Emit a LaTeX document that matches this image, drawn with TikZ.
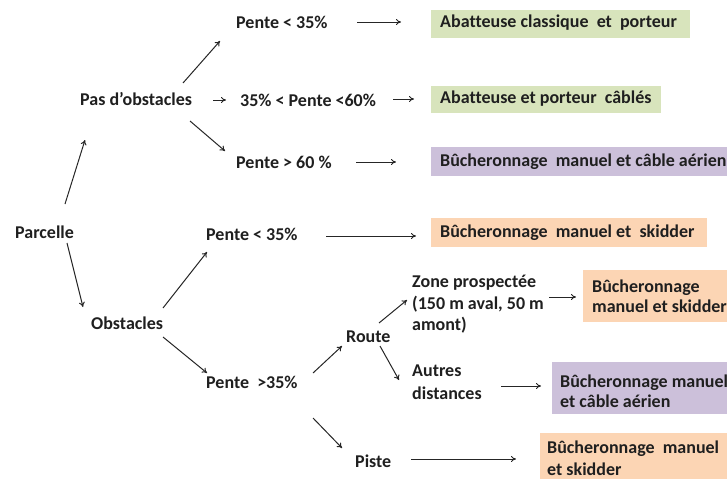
\documentclass[tikz,border=0pt]{standalone}
\usepackage{fontspec}
\setmainfont{Carlito}[Ligatures=NoCommon]
\usetikzlibrary{arrows.meta}
\definecolor{boxgreen}{HTML}{D8E4BC}
\definecolor{boxpurple}{HTML}{CCC0DA}
\definecolor{boxorange}{HTML}{FCD5B4}
\begin{document}
\begin{tikzpicture}[x=1pt,y=-1pt,
  lbl/.style={font=\fontsize{18}{22}\selectfont\bfseries, inner sep=0pt, text=black!88, anchor=west},
  res/.style={font=\fontsize{18}{20}\selectfont\bfseries, inner sep=0pt, anchor=north west, align=left, text=black!88},
  arr/.style={-{To[length=5pt,width=6pt]}, line width=1pt, black!85}]
\useasboundingbox (0,0) rectangle (727,479);
% result boxes
\fill[boxgreen] (431,10) rectangle (690,38);
\fill[boxgreen] (431,86) rectangle (661,113);
\fill[boxpurple] (431,147) rectangle (727,176);
\fill[boxorange] (431,218) rectangle (707,247);
\fill[boxorange] (583,270) rectangle (727,322);
\fill[boxpurple] (552,362) rectangle (727,414);
\fill[boxorange] (540,433) rectangle (727,479);
\node[lbl] (r1) at (440,23) {Abatteuse classique \ et \ porteur};
\node[lbl] (r2) at (440,99) {Abatteuse et porteur \ câblés};
\node[lbl] (r3) at (440,162) {Bûcheronnage \ manuel et câble aérien};
\node[lbl] (r4) at (440,233) {Bûcheronnage \ manuel et \ skidder};
\node[res] (r5) at (592,280) {Bûcheronnage\\manuel et skidder};
\node[res] (r6) at (560,375) {Bûcheronnage manuel\\et câble aérien};
\node[res, font=\fontsize{18}{22}\selectfont\bfseries] (r7) at (547,441) {Bûcheronnage \ manuel\\et skidder};
% labels
\node[lbl] (parc) at (15,232) {Parcelle};
\node[lbl] (pas) at (80,99) {Pas d’obstacles};
\node[lbl] (obs) at (91,323) {Obstacles};
\node[lbl] (p1) at (236,22) {Pente < 35\%};
\node[lbl] (p2) at (240,100) {35\% < Pente <60\%};
\node[lbl] (p3) at (236,162) {Pente > 60 \%};
\node[lbl] (p4) at (206,234) {Pente < 35\%};
\node[lbl] (p5) at (206,382) {Pente \ >35\%};
\node[lbl] (route) at (346,337) {Route};
\node[res, font=\fontsize{18}{21.5}\selectfont\bfseries] (zone) at (412,275) {Zone prospectée\\(150 m aval, 50 m\\amont)};
\node[res, font=\fontsize{18}{23}\selectfont\bfseries] (autres) at (412,365) {Autres\\distances};
\node[lbl] (piste) at (355,461) {Piste};
% arrows
\draw[arr] ([shift={(50,-28)}]parc.west) -- ([shift={(5,41)}]pas.west);
\draw[arr] ([shift={(52,11)}]parc.west) -- ([shift={(-8,-16)}]obs.west);
\draw[arr] ([shift={(103,-16)}]pas.west) -- ([shift={(-16,19)}]p1.west);
\draw[arr] ([shift={(133,1)}]pas.west) -- ([shift={(-14,0)}]p2.west);
\draw[arr] ([shift={(110,22)}]pas.west) -- ([shift={(-11,-11)}]p3.west);
\draw[arr] ([shift={(121,0)}]p1.west) -- ([shift={(-39,-1)}]r1.west);
\draw[arr] ([shift={(153,-1)}]p2.west) -- ([shift={(-26,0)}]r2.west);
\draw[arr] ([shift={(120,0)}]p3.west) -- ([shift={(-44,0)}]r3.west);
\draw[arr] ([shift={(72,-15)}]obs.west) -- ([shift={(1,18)}]p4.west);
\draw[arr] ([shift={(72,14)}]obs.west) -- ([shift={(1,-9)}]p5.west);
\draw[arr] ([shift={(120,2)}]p4.west) -- ([shift={(-24,3)}]r4.west);
\draw[arr] ([shift={(107,-9)}]p5.west) -- ([shift={(-4,9)}]route.west);
\draw[arr] ([shift={(107,36)}]p5.west) -- ([shift={(-13,-13)}]piste.west);
\draw[arr] ([shift={(33,-14)}]route.west) -- ([shift={(-5,25)}]zone.north west);
\draw[arr] ([shift={(34,9)}]route.west) -- ([shift={(-13,15)}]autres.north west);
\draw[arr] ([shift={(137,22)}]zone.north west) -- ([shift={(-16,17)}]r5.north west);
\draw[arr] ([shift={(89,21)}]autres.north west) -- ([shift={(-19,11)}]r6.north west);
\draw[arr] ([shift={(56,-2)}]piste.west) -- ([shift={(-31,18)}]r7.north west);
\end{tikzpicture}
\end{document}
